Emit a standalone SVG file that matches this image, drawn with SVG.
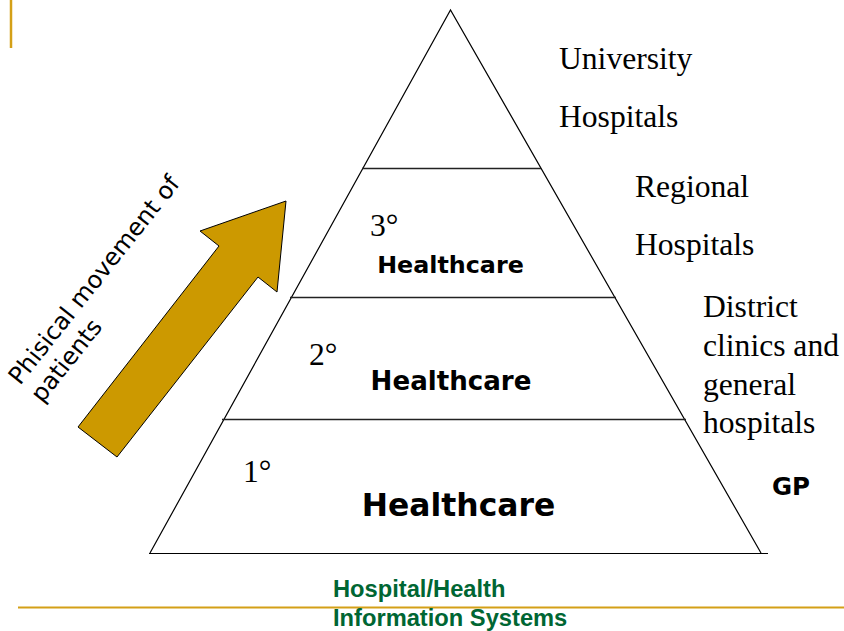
<svg xmlns="http://www.w3.org/2000/svg" width="844" height="631" viewBox="0 0 844 631">
  <style>
    .edge { fill: none; stroke: #000; stroke-width: 1.2; }
    .tier { stroke: #222; stroke-width: 1.3; }
    .rule { stroke: #D4A017; }
    .serif { font-family: "Liberation Serif", "Times New Roman", serif; font-size: 31.6px; fill: #000; }
    .care { font-family: "DejaVu Sans", Verdana, sans-serif; font-weight: bold; fill: #000; text-anchor: middle; }
    .flow { font-family: "DejaVu Sans", Verdana, sans-serif; font-size: 24px; fill: #000; }
    .foot { font-family: "Liberation Sans", Arial, sans-serif; font-weight: bold; font-size: 23.7px; fill: #006633; }
  </style>

  <rect width="844" height="631" fill="#fff"/>

  <!-- slide frame accents -->
  <g id="frame">
    <line class="rule" x1="11" y1="0" x2="11" y2="48" stroke-width="2.5"/>
    <line class="rule" x1="18" y1="607.5" x2="844" y2="607.5" stroke-width="2"/>
  </g>

  <!-- pyramid outline and tier dividers -->
  <g id="pyramid">
    <polyline class="edge" points="150,553 450.5,10 761,553"/>
    <line class="edge" x1="149" y1="553.5" x2="768" y2="553.5"/>
    <line class="tier" x1="362" y1="168.5" x2="541" y2="168.5"/>
    <line class="tier" x1="290" y1="297.5" x2="616" y2="297.5"/>
    <line class="tier" x1="222" y1="419.5" x2="686" y2="419.5"/>
  </g>

  <g id="tier-tertiary">
    <text class="serif" x="370" y="236">3°</text>
    <text class="care" x="450.5" y="273" font-size="23.8">Healthcare</text>
  </g>
  <g id="tier-secondary">
    <text class="serif" x="309" y="365">2°</text>
    <text class="care" x="451" y="390" font-size="26.1">Healthcare</text>
  </g>
  <g id="tier-primary">
    <text class="serif" x="243" y="482">1°</text>
    <text class="care" x="458.5" y="516" font-size="31.4">Healthcare</text>
  </g>

  <!-- facility labels beside each tier -->
  <g id="label-university">
    <text class="serif" x="559" y="69">University</text>
    <text class="serif" x="559" y="127">Hospitals</text>
  </g>
  <g id="label-regional">
    <text class="serif" x="635" y="197">Regional</text>
    <text class="serif" x="635" y="255">Hospitals</text>
  </g>
  <g id="label-district">
    <text class="serif" x="703" y="317">District</text>
    <text class="serif" x="703" y="356">clinics and</text>
    <text class="serif" x="703" y="395">general</text>
    <text class="serif" x="703" y="433">hospitals</text>
  </g>
  <g id="label-gp">
    <text class="care" x="791" y="495" font-size="24.5">GP</text>
  </g>

  <!-- patient movement arrow -->
  <g id="movement">
    <polygon points="78,427 117,457 258,277 277,292 286,201 200,231 219,246" fill="#CC9900" stroke="#000" stroke-width="1"/>
    <text class="flow" transform="translate(20,386) rotate(-51.5)">
      <tspan x="0" y="0">Phisical movement of</tspan>
      <tspan x="0" y="28.5">patients</tspan>
    </text>
  </g>

  <g id="footer">
    <text class="foot" x="333" y="597">Hospital/Health</text>
    <text class="foot" x="333" y="626">Information Systems</text>
  </g>
</svg>
